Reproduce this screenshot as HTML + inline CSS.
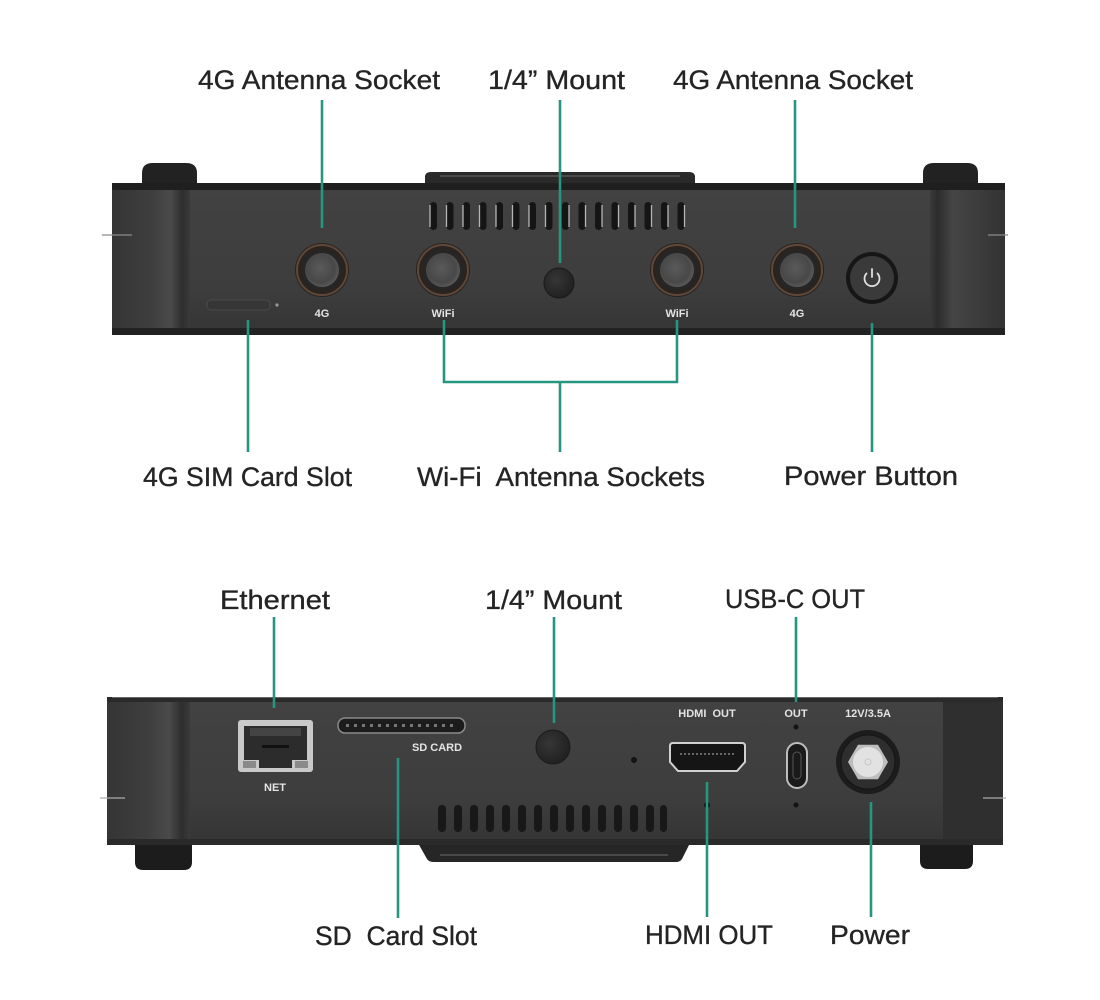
<!DOCTYPE html>
<html><head><meta charset="utf-8"><style>
html,body{margin:0;padding:0;background:#fff;}
svg{display:block;}
.lbl{font-family:"Liberation Sans",sans-serif;font-size:27px;fill:#242424;stroke:#242424;stroke-width:0.35;}
.sm{font-family:"Liberation Sans",sans-serif;font-size:11px;font-weight:bold;fill:#e4e4e4;text-anchor:middle;}
.ln{stroke:#25967f;stroke-width:2.6;fill:none;}
</style></head><body>
<svg width="1100" height="1000" viewBox="0 0 1100 1000" xmlns="http://www.w3.org/2000/svg">
<defs>
<linearGradient id="face" x1="0" y1="0" x2="0" y2="1">
<stop offset="0" stop-color="#424242"/><stop offset="0.7" stop-color="#3d3d3d"/><stop offset="1" stop-color="#343434"/>
</linearGradient>
<linearGradient id="capL" x1="0" y1="0" x2="1" y2="0">
<stop offset="0" stop-color="#353535"/><stop offset="0.5" stop-color="#3e3e3e"/><stop offset="0.75" stop-color="#4a4a4a"/><stop offset="0.9" stop-color="#2e2e2e"/><stop offset="1" stop-color="#3a3a3a"/>
</linearGradient>
<linearGradient id="capR" x1="0" y1="0" x2="1" y2="0">
<stop offset="0" stop-color="#3a3a3a"/><stop offset="0.1" stop-color="#2c2c2c"/><stop offset="0.3" stop-color="#454545"/><stop offset="1" stop-color="#333"/>
</linearGradient>
<radialGradient id="lens" cx="0.45" cy="0.45" r="0.7">
<stop offset="0" stop-color="#5a5a5a"/><stop offset="0.6" stop-color="#484848"/><stop offset="1" stop-color="#6a6a6a"/>
</radialGradient>
<radialGradient id="hole" cx="0.4" cy="0.4" r="0.7">
<stop offset="0" stop-color="#363636"/><stop offset="1" stop-color="#1e1e1e"/>
</radialGradient>
</defs>

<!-- ================= TOP DEVICE ================= -->
<path d="M142,188 V173 Q142,163 153,163 H186 Q197,163 197,173 V188 Z" fill="#222"/>
<path d="M923,188 V173 Q923,163 934,163 H967 Q978,163 978,173 V188 Z" fill="#222"/>
<path d="M425,188 V177 Q425,172 431,172 H689 Q695,172 695,177 V188 Z" fill="#2a2a2a"/>
<line x1="440" y1="176" x2="680" y2="176" stroke="#4a4a4a" stroke-width="2"/>
<rect x="112" y="184" width="893" height="151" rx="4" fill="url(#face)"/>
<rect x="112" y="184" width="78" height="151" fill="url(#capL)"/>
<rect x="930" y="184" width="75" height="151" fill="url(#capR)"/>
<rect x="112" y="183" width="893" height="7" fill="#1f1f1f"/>
<rect x="112" y="328" width="893" height="7" fill="#222"/>
<line x1="102" y1="235" x2="132" y2="235" stroke="#8a8a8a" stroke-width="1.2"/>
<line x1="988" y1="235" x2="1008" y2="235" stroke="#8a8a8a" stroke-width="1.2"/>
<g>
<rect x="430" y="202" width="7" height="28" rx="3.5" fill="#151515"/>
<rect x="446.5" y="202" width="7" height="28" rx="3.5" fill="#151515"/>
<rect x="463" y="202" width="7" height="28" rx="3.5" fill="#151515"/>
<rect x="479.5" y="202" width="7" height="28" rx="3.5" fill="#151515"/>
<rect x="496" y="202" width="7" height="28" rx="3.5" fill="#151515"/>
<rect x="512.5" y="202" width="7" height="28" rx="3.5" fill="#151515"/>
<rect x="529" y="202" width="7" height="28" rx="3.5" fill="#151515"/>
<rect x="545.5" y="202" width="7" height="28" rx="3.5" fill="#151515"/>
<rect x="562" y="202" width="7" height="28" rx="3.5" fill="#151515"/>
<rect x="578.5" y="202" width="7" height="28" rx="3.5" fill="#151515"/>
<rect x="595" y="202" width="7" height="28" rx="3.5" fill="#151515"/>
<rect x="611.5" y="202" width="7" height="28" rx="3.5" fill="#151515"/>
<rect x="628" y="202" width="7" height="28" rx="3.5" fill="#151515"/>
<rect x="644.5" y="202" width="7" height="28" rx="3.5" fill="#151515"/>
<rect x="661" y="202" width="7" height="28" rx="3.5" fill="#151515"/>
<rect x="677.5" y="202" width="7" height="28" rx="3.5" fill="#151515"/>
</g>
<g stroke="#b5b5b5" stroke-width="1.3">
<line x1="430" y1="205" x2="430" y2="227"/><line x1="446.5" y1="205" x2="446.5" y2="227"/>
<line x1="463" y1="205" x2="463" y2="227"/><line x1="479.5" y1="205" x2="479.5" y2="227"/>
<line x1="496" y1="205" x2="496" y2="227"/><line x1="512.5" y1="205" x2="512.5" y2="227"/>
<line x1="529" y1="205" x2="529" y2="227"/><line x1="545.5" y1="205" x2="545.5" y2="227"/>
<line x1="569" y1="205" x2="569" y2="227"/><line x1="585.5" y1="205" x2="585.5" y2="227"/>
<line x1="602" y1="205" x2="602" y2="227"/><line x1="618.5" y1="205" x2="618.5" y2="227"/>
<line x1="635" y1="205" x2="635" y2="227"/><line x1="651.5" y1="205" x2="651.5" y2="227"/>
<line x1="668" y1="205" x2="668" y2="227"/><line x1="684.5" y1="205" x2="684.5" y2="227"/>
</g>
<rect x="207" y="300" width="63" height="10" rx="4" fill="#363636" stroke="#4a4a4a" stroke-width="1"/>
<circle cx="277" cy="305" r="1.6" fill="#999"/>
<g>
<circle cx="322" cy="270" r="27" fill="#2a2420"/><circle cx="322" cy="270" r="25" fill="none" stroke="#5e4838" stroke-width="2"/><circle cx="322" cy="270" r="20" fill="#262626"/><circle cx="322" cy="270" r="17" fill="url(#lens)"/>
<circle cx="443" cy="270" r="27" fill="#2a2420"/><circle cx="443" cy="270" r="25" fill="none" stroke="#5e4838" stroke-width="2"/><circle cx="443" cy="270" r="20" fill="#262626"/><circle cx="443" cy="270" r="17" fill="url(#lens)"/>
<circle cx="677" cy="270" r="27" fill="#2a2420"/><circle cx="677" cy="270" r="25" fill="none" stroke="#5e4838" stroke-width="2"/><circle cx="677" cy="270" r="20" fill="#262626"/><circle cx="677" cy="270" r="17" fill="url(#lens)"/>
<circle cx="797" cy="270" r="27" fill="#2a2420"/><circle cx="797" cy="270" r="25" fill="none" stroke="#5e4838" stroke-width="2"/><circle cx="797" cy="270" r="20" fill="#262626"/><circle cx="797" cy="270" r="17" fill="url(#lens)"/>
</g>
<circle cx="559" cy="283" r="15" fill="url(#hole)" stroke="#1a1a1a" stroke-width="1"/>
<circle cx="872" cy="278" r="26" fill="#161616"/>
<circle cx="872" cy="278" r="22" fill="#3a3a3a"/>
<path d="M866.5,273.5 A7.5,7.5 0 1 0 877.5,273.5" fill="none" stroke="#e0e0e0" stroke-width="1.8" stroke-linecap="round"/>
<line x1="872" y1="269" x2="872" y2="277" stroke="#e0e0e0" stroke-width="1.8" stroke-linecap="round"/>
<text class="sm" x="322" y="317">4G</text>
<text class="sm" x="443" y="317">WiFi</text>
<text class="sm" x="677" y="317">WiFi</text>
<text class="sm" x="797" y="317">4G</text>

<!-- ================= BOTTOM DEVICE ================= -->
<path d="M135,840 V862 Q135,870 143,870 H184 Q192,870 192,862 V840 Z" fill="#1c1c1c"/>
<path d="M920,840 V861 Q920,869 928,869 H965 Q973,869 973,861 V840 Z" fill="#1c1c1c"/>
<path d="M418,843 L427,859 Q429,862 434,862 H676 Q680,862 682,859 L690,843 Z" fill="#262626"/>
<line x1="440" y1="855" x2="668" y2="855" stroke="#4a4a4a" stroke-width="2"/>
<rect x="107" y="697" width="896" height="148" rx="5" fill="url(#face)"/>
<rect x="107" y="699" width="83" height="144" fill="url(#capL)"/>
<rect x="943" y="699" width="60" height="144" fill="#2f2f2f"/>
<rect x="107" y="697" width="896" height="5" fill="#2a2a2a"/>
<line x1="112" y1="697.5" x2="998" y2="697.5" stroke="#666" stroke-width="1"/>
<rect x="107" y="839" width="896" height="6" fill="#2a2a2a"/>
<line x1="100" y1="798" x2="125" y2="798" stroke="#aaa" stroke-width="1.2"/>
<line x1="983" y1="798" x2="1006" y2="798" stroke="#aaa" stroke-width="1.2"/>
<rect x="238" y="720" width="75" height="52" rx="3" fill="#c9c9c9"/>
<path d="M244,726 H307 V760 H292 V768 H259 V760 H244 Z" fill="#2c2c2c"/>
<rect x="250" y="728" width="51" height="8" fill="#444"/>
<rect x="262" y="745" width="27" height="3" fill="#111"/>
<rect x="243" y="761" width="13" height="7" fill="#8a8a8a"/>
<rect x="295" y="761" width="13" height="7" fill="#8a8a8a"/>
<text class="sm" x="275" y="791">NET</text>
<rect x="338" y="718" width="127" height="15" rx="7" fill="#1c1c1c" stroke="#8a8a8a" stroke-width="1.5"/>
<line x1="346" y1="725.5" x2="457" y2="725.5" stroke="#777" stroke-width="3" stroke-dasharray="3 5"/>
<text class="sm" x="437" y="751">SD CARD</text>
<circle cx="553" cy="747" r="17" fill="url(#hole)" stroke="#1c1c1c" stroke-width="1"/>
<circle cx="634" cy="760" r="3" fill="#141414"/>
<g fill="#181818">
<rect x="438" y="805" width="8" height="27" rx="4"/><rect x="454" y="805" width="8" height="27" rx="4"/>
<rect x="470" y="805" width="8" height="27" rx="4"/><rect x="486" y="805" width="8" height="27" rx="4"/>
<rect x="502" y="805" width="8" height="27" rx="4"/><rect x="518" y="805" width="8" height="27" rx="4"/>
<rect x="534" y="805" width="8" height="27" rx="4"/><rect x="550" y="805" width="8" height="27" rx="4"/>
<rect x="566" y="805" width="8" height="27" rx="4"/><rect x="582" y="805" width="8" height="27" rx="4"/>
<rect x="598" y="805" width="8" height="27" rx="4"/><rect x="614" y="805" width="8" height="27" rx="4"/>
<rect x="630" y="805" width="8" height="27" rx="4"/><rect x="646" y="805" width="8" height="27" rx="4"/>
<rect x="660" y="805" width="7" height="27" rx="3.5"/>
</g>
<text class="sm" x="707" y="717" xml:space="preserve">HDMI  OUT</text>
<path d="M670,746 Q670,743 673,743 H742 Q745,743 745,746 V762 L737,771 H678 L670,762 Z" fill="#151515" stroke="#d0d0d0" stroke-width="2"/>
<line x1="680" y1="754" x2="735" y2="754" stroke="#666" stroke-width="2" stroke-dasharray="2 2"/>
<circle cx="707" cy="805" r="3" fill="#141414"/>
<text class="sm" x="796" y="717">OUT</text>
<circle cx="796" cy="727" r="2.5" fill="#141414"/>
<rect x="787" y="743" width="20" height="45" rx="10" fill="#1a1a1a" stroke="#bdbdbd" stroke-width="2"/>
<rect x="793" y="752" width="8" height="27" rx="4" fill="none" stroke="#555" stroke-width="1"/>
<circle cx="796" cy="805" r="2.5" fill="#141414"/>
<text class="sm" x="868" y="717">12V/3.5A</text>
<circle cx="868" cy="762" r="32" fill="#1c1c1c"/>
<circle cx="868" cy="762" r="27" fill="#2e2e2e" stroke="#151515" stroke-width="1"/>
<polygon points="888,762 878,779.3 858,779.3 848,762 858,744.7 878,744.7" fill="#bdbdbd"/>
<circle cx="868" cy="762" r="15" fill="#e2e2e2"/>
<circle cx="868" cy="762" r="3" fill="none" stroke="#c8c8c8" stroke-width="1"/>

<!-- ================= CONNECTORS ================= -->
<path class="ln" d="M322,100 V228"/>
<path class="ln" d="M560,100 V263"/>
<path class="ln" d="M795,100 V228"/>
<path class="ln" d="M248,320 V452"/>
<path class="ln" d="M444,320 V382 H677 V320"/>
<path class="ln" d="M560,382 V452"/>
<path class="ln" d="M872,323 V452"/>
<path class="ln" d="M274,617 V708"/>
<path class="ln" d="M554,617 V723"/>
<path class="ln" d="M796,617 V702"/>
<path class="ln" d="M398,758 V918"/>
<path class="ln" d="M707,782 V917"/>
<path class="ln" d="M871,802 V917"/>

<!-- ================= LABELS ================= -->
<text class="lbl" x="198" y="89" textLength="242" lengthAdjust="spacingAndGlyphs">4G Antenna Socket</text>
<text class="lbl" x="488" y="89" textLength="137" lengthAdjust="spacingAndGlyphs">1/4” Mount</text>
<text class="lbl" x="673" y="89" textLength="240" lengthAdjust="spacingAndGlyphs">4G Antenna Socket</text>
<text class="lbl" x="143" y="486" textLength="209" lengthAdjust="spacingAndGlyphs">4G SIM Card Slot</text>
<text class="lbl" x="417" y="486" textLength="288" lengthAdjust="spacingAndGlyphs" xml:space="preserve">Wi-Fi  Antenna Sockets</text>
<text class="lbl" x="784" y="485" textLength="174" lengthAdjust="spacingAndGlyphs">Power Button</text>
<text class="lbl" x="220" y="609" textLength="110" lengthAdjust="spacingAndGlyphs">Ethernet</text>
<text class="lbl" x="485" y="609" textLength="137" lengthAdjust="spacingAndGlyphs">1/4” Mount</text>
<text class="lbl" x="725" y="608" textLength="140" lengthAdjust="spacingAndGlyphs">USB-C OUT</text>
<text class="lbl" x="315" y="945" textLength="162" lengthAdjust="spacingAndGlyphs" xml:space="preserve">SD  Card Slot</text>
<text class="lbl" x="645" y="944" textLength="128" lengthAdjust="spacingAndGlyphs">HDMI OUT</text>
<text class="lbl" x="830" y="944" textLength="80" lengthAdjust="spacingAndGlyphs">Power</text>
</svg>
</body></html>
